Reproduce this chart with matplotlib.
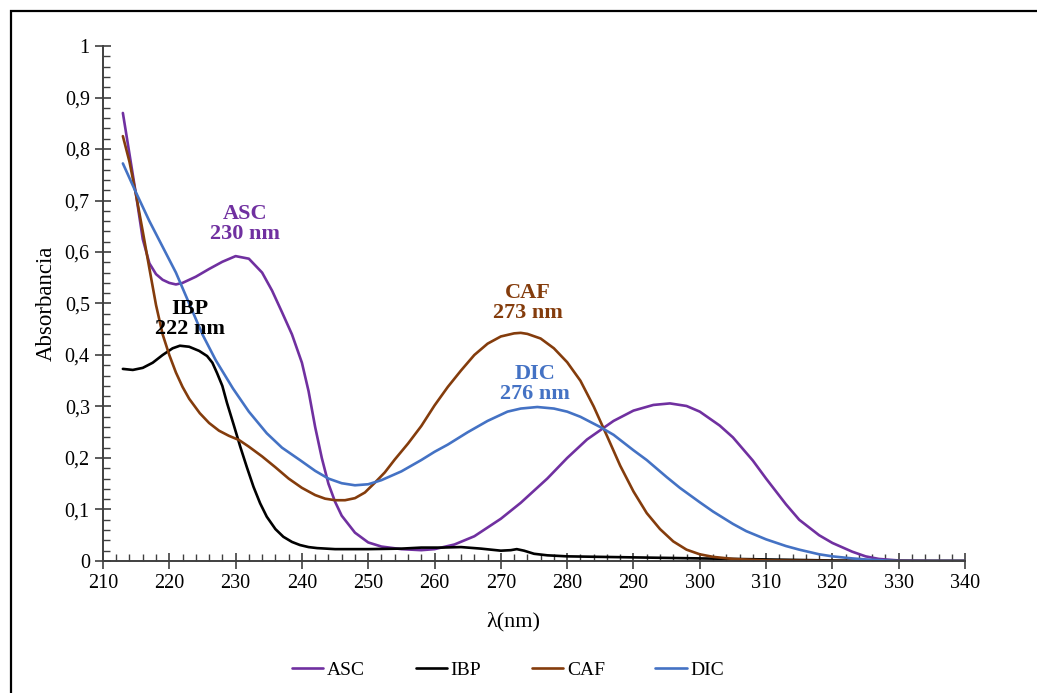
import matplotlib
matplotlib.use("Agg")
import matplotlib.pyplot as plt
from matplotlib.ticker import MultipleLocator, FuncFormatter
from matplotlib.patches import Rectangle

plt.rcParams['font.family'] = ['Liberation Serif', 'DejaVu Serif']

# espectros UV-Vis
asc_x = [213, 214, 215, 216, 217, 218, 219, 220, 221, 222, 224, 226, 228, 230, 232, 234,
         235.5, 237, 238.5, 240, 241, 242, 243, 244, 245, 246, 248, 250, 252, 255, 258,
         260, 263, 266, 270, 273, 277, 280, 283, 287, 290, 293, 295.5, 298, 300, 303,
         305, 308, 310, 313, 315, 318, 320, 323, 325, 327, 330, 335, 340]
asc_y = [0.87, 0.79, 0.71, 0.625, 0.578, 0.557, 0.546, 0.54, 0.537, 0.54, 0.552, 0.567,
         0.581, 0.592, 0.587, 0.56, 0.525, 0.483, 0.44, 0.385, 0.33, 0.26, 0.2, 0.15,
         0.115, 0.088, 0.055, 0.036, 0.028, 0.023, 0.021, 0.023, 0.032, 0.048, 0.082,
         0.113, 0.16, 0.2, 0.236, 0.272, 0.292, 0.303, 0.306, 0.301, 0.29, 0.263, 0.24,
         0.195, 0.16, 0.11, 0.08, 0.05, 0.035, 0.018, 0.009, 0.004, 0.001, 0.0, 0.0]

ibp_x = [213, 214.5, 216, 217.5, 219, 220.5, 221.6, 223, 224.5, 225.7, 226.5, 227.2, 228,
         228.7, 229.7, 230.7, 231.7, 232.7, 233.7, 234.7, 236, 237.2, 238.5, 239.7, 241,
         242.3, 245, 250, 255, 258, 261, 264, 267, 270, 271.5, 272.4, 273.5, 275, 277,
         280, 285, 290, 300, 310, 320, 330, 340]
ibp_y = [0.373, 0.371, 0.375, 0.385, 0.400, 0.413, 0.418, 0.416, 0.408, 0.398, 0.385,
         0.365, 0.34, 0.307, 0.265, 0.222, 0.182, 0.144, 0.112, 0.086, 0.062, 0.047,
         0.037, 0.031, 0.027, 0.025, 0.023, 0.023, 0.024, 0.026, 0.026, 0.027, 0.024,
         0.02, 0.021, 0.023, 0.02, 0.014, 0.011, 0.009, 0.008, 0.007, 0.005, 0.003,
         0.001, 0.0, 0.0]

caf_x = [213, 214, 215, 216, 217, 218, 219, 220, 221, 222, 223, 224.6, 226, 227.5, 229,
         230.5, 232, 234, 236, 238, 240, 242, 243.5, 245, 246.5, 248, 249.5, 251, 252.5,
         254, 256, 258, 260, 262, 264, 266, 268, 270, 272, 273, 274, 276, 278, 280, 282,
         284, 286, 288, 290, 292, 294, 296, 298, 300, 302, 305, 310, 320, 340]
caf_y = [0.825, 0.775, 0.71, 0.64, 0.568, 0.497, 0.44, 0.40, 0.366, 0.338, 0.315, 0.287,
         0.268, 0.253, 0.243, 0.235, 0.222, 0.203, 0.182, 0.16, 0.142, 0.128, 0.121,
         0.118, 0.118, 0.122, 0.133, 0.152, 0.172, 0.197, 0.228, 0.262, 0.302, 0.338,
         0.37, 0.4, 0.422, 0.436, 0.442, 0.443, 0.441, 0.432, 0.413, 0.386, 0.35, 0.3,
         0.243, 0.185, 0.135, 0.093, 0.062, 0.038, 0.022, 0.013, 0.008, 0.004, 0.001,
         0.0, 0.0]

dic_x = [213, 215, 217, 219, 221, 223, 225, 227, 229.6, 232, 234.7, 237, 239.7, 242, 244,
         246, 248, 250, 252, 255, 258, 260, 262, 265, 268, 271, 273, 275.5, 278, 280,
         282, 285, 287, 290, 292, 295, 297, 300, 302, 305, 307, 310, 313, 315, 318, 320,
         323, 325, 328, 330, 340]
dic_y = [0.772, 0.715, 0.66, 0.61, 0.56, 0.5, 0.44, 0.39, 0.335, 0.29, 0.248, 0.22,
         0.196, 0.175, 0.16, 0.151, 0.147, 0.149, 0.157, 0.174, 0.196, 0.212, 0.226,
         0.25, 0.272, 0.29, 0.296, 0.299, 0.296, 0.29, 0.28, 0.26, 0.245, 0.215, 0.196,
         0.163, 0.142, 0.114, 0.096, 0.072, 0.058, 0.042, 0.029, 0.022, 0.013, 0.009,
         0.005, 0.003, 0.001, 0.0, 0.0]

labels = ['ASC', 'IBP', 'CAF', 'DIC']
colores = ['#7030A0', '#000000', '#843C0C', '#4472C4']
picos = ['ASC\n230 nm', 'IBP\n222 nm', 'CAF\n273 nm', 'DIC\n276 nm']
pos_x = [231.4, 223.1, 274.1, 275.1]
pos_y = [0.654, 0.47, 0.501, 0.344]

fig = plt.figure(figsize=(10.37, 6.93), dpi=100)
ax = fig.add_axes([0.0993, 0.1905, 0.8313, 0.7431])

series = [(asc_x, asc_y), (ibp_x, ibp_y), (caf_x, caf_y), (dic_x, dic_y)]
for (xs, ys), lab, col in zip(series, labels, colores):
    ax.plot(xs, ys, color=col, lw=1.9, label=lab, solid_capstyle='round',
            solid_joinstyle='round')

for txt, xx, yy, col in zip(picos, pos_x, pos_y, colores):
    ax.text(xx, yy, txt, color=col, fontsize=16, fontweight='bold', ha='center',
            va='center', linespacing=1.0)

ax.set_xlim(210, 340)
ax.set_ylim(0, 1)
ax.xaxis.set_major_locator(MultipleLocator(10))
ax.xaxis.set_minor_locator(MultipleLocator(2))
ax.yaxis.set_major_locator(MultipleLocator(0.1))
ax.yaxis.set_minor_locator(MultipleLocator(0.02))
ax.yaxis.set_major_formatter(FuncFormatter(lambda v, p: ('%g' % round(v, 2)).replace('.', ',')))

for s in ['top', 'right']:
    ax.spines[s].set_visible(False)
for s in ['left', 'bottom']:
    ax.spines[s].set_color('#404040')
    ax.spines[s].set_linewidth(1.4)
ax.tick_params(which='major', direction='inout', length=11, width=1.2, color='#404040',
               labelsize=14.5, pad=4)
ax.tick_params(which='minor', direction='in', length=5, width=1.0, color='#404040')

ax.set_xlabel('λ(nm)', fontsize=16)
ax.set_ylabel('Absorbancia', fontsize=16.5)
ax.xaxis.set_label_coords(0.476, -0.099)
ax.yaxis.set_label_coords(-0.054, 0.5)

fig.legend(loc='center', bbox_to_anchor=(0.49, 0.033), ncol=4, frameon=False,
           fontsize=14, handlelength=1.6, columnspacing=2.6, handletextpad=0.2)

# marco exterior
fig.patches.append(Rectangle((0.0106, -0.05), 1.2, 1.034, transform=fig.transFigure,
                             fill=False, edgecolor='black', lw=1.6))

fig.savefig('out.png', dpi=100)
